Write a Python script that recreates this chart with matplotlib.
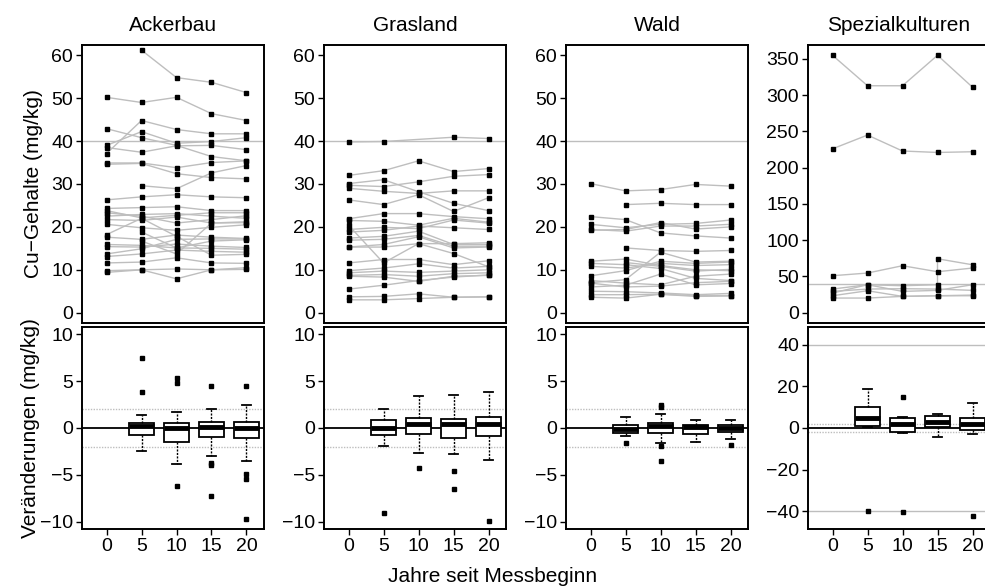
import numpy as np
import matplotlib
matplotlib.use("Agg")
import matplotlib.pyplot as plt

plt.rcParams['font.family'] = ['Liberation Sans', 'DejaVu Sans']

nan = np.nan
years = [0, 5, 10, 15, 20]
box_years = [5, 10, 15, 20]
panels = ['Ackerbau', 'Grasland', 'Wald', 'Spezialkulturen']

# Cu contents per site (mg/kg), one row per site, columns = years
ackerbau = [
    [nan, 61.2, 54.8, 53.7, 51.3],
    [50.2, 49.0, 50.2, 46.4, 44.8],
    [42.9, 40.8, 39.0, 36.4, 35.4],
    [37.1, 44.8, 42.7, 41.7, 41.7],
    [39.0, 42.2, 39.5, 39.9, 40.8],
    [38.5, 37.4, 38.9, 39.0, 38.0],
    [34.9, 34.9, 33.8, 35.0, 35.4],
    [34.6, 34.8, 32.4, 31.5, 31.2],
    [nan, 29.6, 28.9, 32.6, 34.3],
    [26.3, 27.0, 27.5, 27.0, 26.8],
    [24.3, 24.5, 24.7, 23.8, 23.8],
    [23.8, 22.1, 22.7, 23.3, 23.3],
    [23.3, 22.5, 20.9, 21.7, 22.6],
    [22.5, 22.9, 23.1, 22.5, 22.0],
    [21.7, 21.5, 22.3, 20.9, 21.2],
    [20.6, 19.8, 19.2, 19.9, 20.5],
    [18.2, 22.0, 17.8, 13.4, 13.6],
    [17.6, 17.1, 18.1, 17.6, 17.3],
    [15.9, 15.7, 15.1, 15.0, 14.8],
    [15.4, 15.3, 16.0, 15.5, 15.2],
    [13.7, 14.9, 17.1, 17.2, 17.2],
    [13.1, 13.7, 14.6, 14.3, 14.1],
    [11.6, 11.8, 12.8, 11.6, 11.5],
    [9.8, 10.0, 10.2, 10.0, 10.1],
    [9.4, 10.0, 7.9, 10.0, 10.5],
    [nan, 18.8, 15.1, 16.7, 17.0],
    [nan, 16.7, 13.7, 20.9, 21.0],
]
grasland = [
    [39.8, 39.9, nan, 40.9, 40.6],
    [32.0, 33.1, 35.4, 32.9, 33.6],
    [30.1, 31.0, 28.2, 25.5, 23.8],
    [29.7, 29.4, 30.5, 31.8, 32.2],
    [29.0, 28.3, 27.8, 28.4, 28.4],
    [26.3, 25.2, 27.5, 23.6, 26.8],
    [21.9, 23.1, 23.1, 22.4, 21.9],
    [21.5, 21.3, 20.4, 22.0, 21.1],
    [20.4, 11.6, 16.1, 13.8, 10.7],
    [19.4, 19.9, 19.6, 21.6, 20.9],
    [18.8, 19.2, 20.2, 19.8, 19.4],
    [17.4, 17.8, 19.0, 15.9, 15.9],
    [16.9, 17.1, 18.0, 15.5, 15.5],
    [15.3, 15.9, 17.7, 15.1, 15.3],
    [15.3, 15.3, 16.1, 16.1, 16.3],
    [11.6, 12.4, 12.4, 11.2, 12.1],
    [9.8, 10.4, 11.4, 10.4, 10.8],
    [9.3, 9.7, 9.4, 9.7, 10.0],
    [8.7, 8.9, 8.5, 9.1, 9.3],
    [8.5, 8.3, 7.3, 8.5, 8.7],
    [5.5, 6.4, 7.5, 8.3, 8.8],
    [3.7, 3.8, 4.4, 3.6, 3.7],
    [3.0, 3.0, 3.3, 3.6, 3.7],
]
wald = [
    [30.1, 28.4, 28.7, 29.9, 29.5],
    [nan, 25.2, 25.5, 25.2, 25.2],
    [22.4, 21.7, 18.6, 17.9, 17.4],
    [20.6, 19.8, 20.6, 20.8, 21.6],
    [19.4, 19.0, 20.2, 20.2, 20.6],
    [19.2, 19.4, 21.0, 19.5, 20.0],
    [nan, 15.1, 14.5, 14.3, 14.5],
    [12.0, 12.5, 11.0, 10.0, 9.8],
    [11.5, 11.2, 10.3, 8.0, 7.5],
    [10.8, 10.4, 11.5, 11.0, 11.2],
    [8.6, 9.8, 12.0, 11.5, 11.8],
    [7.0, 7.7, 14.1, 11.8, 12.0],
    [7.5, 6.9, 6.5, 8.5, 9.0],
    [6.9, 6.0, 6.2, 7.0, 7.3],
    [6.0, 6.4, 9.0, 6.5, 6.8],
    [5.0, 4.9, 4.6, 4.2, 4.5],
    [4.2, 4.2, 4.3, 4.0, 4.0],
    [3.6, 3.4, 4.3, 3.8, 3.9],
    [nan, 11.7, 10.8, 9.7, 10.1],
]
spezial = [
    [355, 313, 313, 355, 311],
    [226, 245, 223, 221, 222],
    [51.0, 54.7, 64.8, 56.5, 61.6],
    [29.4, 32.6, 33.1, 32.6, 30.8],
    [27.1, 38.6, 29.4, 30.8, 38.6],
    [23.4, 30.3, 22.5, 23.4, 24.3],
    [20.2, 20.2, 22.5, 23.4, 23.4],
]
# one Spezialkulturen site with two values in year 15
spezial_extra_x = [0, 5, 10, 15, 15, 20]
spezial_extra_y = [32.6, 38.6, 37.2, 38.6, 74.4, 66.1]

# changes (mg/kg): q1, median, q3, lower whisker, upper whisker, outliers
chg_q1 = [[-0.75, -1.5, -1.0, -1.07], [-0.71, -0.64, -1.07, -0.82],
          [-0.5, -0.53, -0.68, -0.43], [1.0, -1.9, 0.3, -1.1]]
chg_med = [[0.2, 0.03, 0.15, 0.05], [0.04, 0.46, 0.39, 0.39],
           [-0.07, 0.21, 0.07, 0.0], [4.6, 1.75, 3.0, 2.1]]
chg_q3 = [[0.5, 0.5, 0.68, 0.64], [0.82, 1.07, 0.93, 1.14],
          [0.28, 0.57, 0.32, 0.28], [9.9, 4.6, 5.6, 4.8]]
chg_lo = [[-2.5, -3.85, -2.95, -3.5], [-1.9, -2.63, -2.78, -3.38],
          [-0.85, -1.64, -1.46, -1.17], [0.5, -2.5, -4.5, -2.9]]
chg_hi = [[1.42, 1.75, 2.06, 2.42], [2.0, 3.38, 3.49, 3.84],
          [1.14, 1.53, 0.82, 0.82], [18.5, 5.1, 6.85, 11.8]]
chg_out = [
    [[7.5, 3.9], [5.3, 4.85, -6.2], [4.5, -3.7, -4.0, -7.3], [4.5, -4.95, -5.4, -9.75]],
    [[-9.1], [-4.3], [-4.63, -6.55], [-9.96]],
    [[-1.64], [2.46, 2.2, -1.96, -3.56], [], [-1.85]],
    [[-40.0], [15.0, -40.5], [], [-42.4]],
]

top_data = [ackerbau, grasland, wald, spezial]
gray = '#bebebe'
fs = 14

W, H = 985, 587
fig = plt.figure(figsize=(W / 100, H / 100), dpi=100)


def px_axes(left, top, width, height):
    return fig.add_axes([left / W, 1 - (top + height) / H, width / W, height / H])


lefts = [82, 324, 566, 808]
for i, name in enumerate(panels):
    ax = px_axes(lefts[i], 45, 182, 278)
    ax.axhline(40, color=gray, lw=1, zorder=1)
    for row in top_data[i]:
        y = np.array(row, dtype=float)
        ok = ~np.isnan(y)
        x = np.array(years)[ok]
        ax.plot(x, y[ok], color=gray, lw=1, zorder=2)
        ax.plot(x, y[ok], 's', color='black', ms=2.4, zorder=3)
    if i == 3:
        ax.plot(spezial_extra_x, spezial_extra_y, color=gray, lw=1, zorder=2)
        ax.plot(spezial_extra_x, spezial_extra_y, 's', color='black', ms=2.4, zorder=3)
        ax.set_ylim(-14.2, 369.2)
        ax.set_yticks(range(0, 351, 50))
    else:
        ax.set_ylim(-2.4, 62.4)
        ax.set_yticks(range(0, 61, 10))
    ax.set_xlim(-3.5, 22.5)
    ax.set_xticks([])
    ax.set_title(name, fontsize=fs + 1, pad=10)
    if i == 0:
        ax.set_ylabel('Cu\u2212Gehalte (mg/kg)', fontsize=fs + 1, labelpad=6)

    # changes
    bx = px_axes(lefts[i], 327, 182, 202)
    bx.axhline(40, color=gray, lw=1, zorder=1)
    bx.axhline(-40, color=gray, lw=1, zorder=1)
    bx.axhline(2, color=gray, lw=1, ls=(0, (1, 1)), zorder=1)
    bx.axhline(-2, color=gray, lw=1, ls=(0, (1, 1)), zorder=1)
    bx.axhline(0, color='black', lw=1.3, zorder=1)
    stats = []
    for j in range(4):
        stats.append(dict(med=chg_med[i][j], q1=chg_q1[i][j], q3=chg_q3[i][j],
                          whislo=chg_lo[i][j], whishi=chg_hi[i][j],
                          fliers=chg_out[i][j]))
    bx.bxp(stats, positions=box_years, widths=3.7, capwidths=1.3,
           patch_artist=True, manage_ticks=False, zorder=3,
           boxprops=dict(facecolor='white', edgecolor='black', lw=1.3),
           medianprops=dict(color='black', lw=3.5, solid_capstyle='butt'),
           whiskerprops=dict(color='black', lw=1, ls=(0, (1.5, 1))),
           capprops=dict(color='black', lw=1.3),
           flierprops=dict(marker='s', markerfacecolor='black',
                           markeredgecolor='black', markersize=2.4))
    bx.set_xlim(-3.5, 22.5)
    bx.set_xticks(years)
    if i == 3:
        bx.set_ylim(-48.5, 48.5)
        bx.set_yticks([-40, -20, 0, 20, 40])
    else:
        bx.set_ylim(-10.8, 10.8)
        bx.set_yticks([-10, -5, 0, 5, 10])
    if i == 0:
        bx.set_ylabel('Ver\u00e4nderungen (mg/kg)', fontsize=fs + 1, labelpad=0)

    for a in (ax, bx):
        for s in a.spines.values():
            s.set_linewidth(1.4)
        a.tick_params(direction='out', length=4, width=1, labelsize=fs, pad=2.5)
    bx.set_yticklabels([str(t).replace('-', '\u2212') for t in bx.get_yticks().astype(int)])

fig.text(493 / W, 1 - 576 / H, 'Jahre seit Messbeginn', ha='center', va='center', fontsize=fs + 1)

fig.savefig('out.png', dpi=100)
